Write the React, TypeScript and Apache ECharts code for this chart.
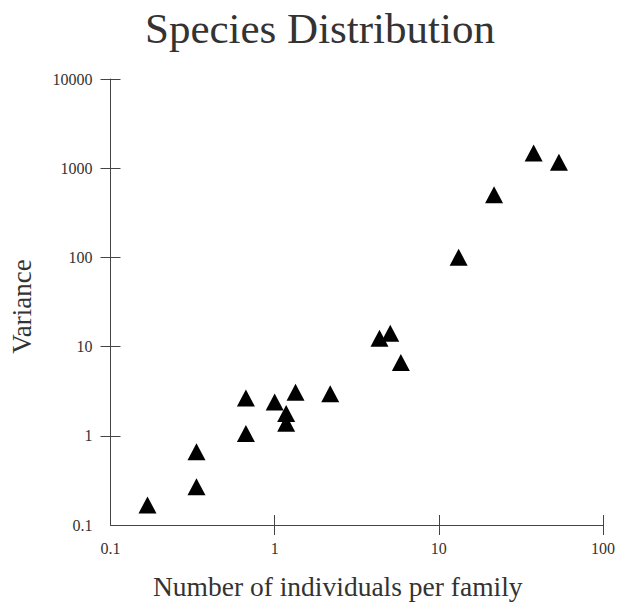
import React, { useEffect, useRef } from "react";
import * as echarts from "echarts";

const individuals = [0.168, 0.334, 0.334, 0.668, 0.668, 1.0, 1.175, 1.175, 1.34, 2.18, 4.35, 5.06, 5.87, 13.2, 21.7, 37.8, 53.9];
const variance = [0.168, 0.268, 0.664, 1.06, 2.65, 2.39, 1.78, 1.38, 3.07, 2.96, 12.4, 14.1, 6.62, 100.5, 504, 1480, 1164];
const xLabelValues = [0.1, 1, 10, 100];
const xTickValues = [1, 10, 100];
const yLabelValues = [0.1, 1, 10, 100, 1000, 10000];
const yTickValues = [1, 10, 100, 1000, 10000];

const FONT = "'Liberation Serif', 'Times New Roman', serif";
const TEXT = "#333";
const LINE = "#444";

export default function App() {
  const ref = useRef<HTMLDivElement>(null);
  useEffect(() => {
    if (!ref.current) return;
    const chart = echarts.init(ref.current, undefined, { renderer: "svg" });
    const points = individuals.map((x, i) => [x, variance[i]]);
    const tickStyle = { color: LINE, width: 1 };
    chart.setOption({
      animation: false,
      title: {
        text: "Species Distribution",
        left: 140,
        top: 2,
        textStyle: { fontFamily: FONT, fontSize: 43, fontWeight: "normal", color: TEXT },
      },
      grid: { left: 110.5, right: 6.3, top: 79, bottom: 77, containLabel: false },
      xAxis: [
        {
          type: "log",
          logBase: 10,
          min: 0.1,
          max: 100,
          position: "bottom",
          axisLine: { show: true, lineStyle: tickStyle },
          axisTick: { show: true, inside: false, length: 10, customValues: xTickValues, lineStyle: tickStyle },
          axisLabel: {
            customValues: xLabelValues,
            fontFamily: FONT,
            fontSize: 16,
            color: TEXT,
            margin: 15,
            formatter: (v: number) => String(v),
          },
          splitLine: { show: false },
          name: "Number of individuals per family",
          nameLocation: "middle",
          nameGap: 47,
          nameTextStyle: { fontFamily: FONT, fontSize: 27.5, color: TEXT, padding: [0, 38, 0, 0] },
        },
        {
          type: "log",
          logBase: 10,
          min: 0.1,
          max: 100,
          position: "bottom",
          axisLine: { show: false },
          axisTick: { show: true, inside: true, length: 10, customValues: xTickValues, lineStyle: tickStyle },
          axisLabel: { show: false },
          splitLine: { show: false },
        },
      ],
      yAxis: [
        {
          type: "log",
          logBase: 10,
          min: 0.1,
          max: 10000,
          position: "left",
          axisLine: { show: true, lineStyle: tickStyle },
          axisTick: { show: true, inside: false, length: 10, customValues: yTickValues, lineStyle: tickStyle },
          axisLabel: {
            customValues: yLabelValues,
            fontFamily: FONT,
            fontSize: 16,
            color: TEXT,
            margin: 18,
            formatter: (v: number) => String(v),
          },
          splitLine: { show: false },
          name: "Variance",
          nameLocation: "middle",
          nameGap: 75,
          nameTextStyle: { fontFamily: FONT, fontSize: 27, color: TEXT, padding: [0, 9, 0, 0] },
        },
        {
          type: "log",
          logBase: 10,
          min: 0.1,
          max: 10000,
          position: "left",
          axisLine: { show: false },
          axisTick: { show: true, inside: true, length: 10, customValues: yTickValues, lineStyle: tickStyle },
          axisLabel: { show: false },
          splitLine: { show: false },
        },
      ],
      series: [
        {
          type: "scatter",
          xAxisIndex: 0,
          yAxisIndex: 0,
          data: points,
          symbol: "triangle",
          symbolSize: [18, 17],
          itemStyle: { color: "#000", opacity: 1 },
        },
      ],
    });
    return () => chart.dispose();
  }, []);
  return <div ref={ref} style={{ position: "absolute", left: 0, top: 0, width: 618, height: 605 }} />;
}
